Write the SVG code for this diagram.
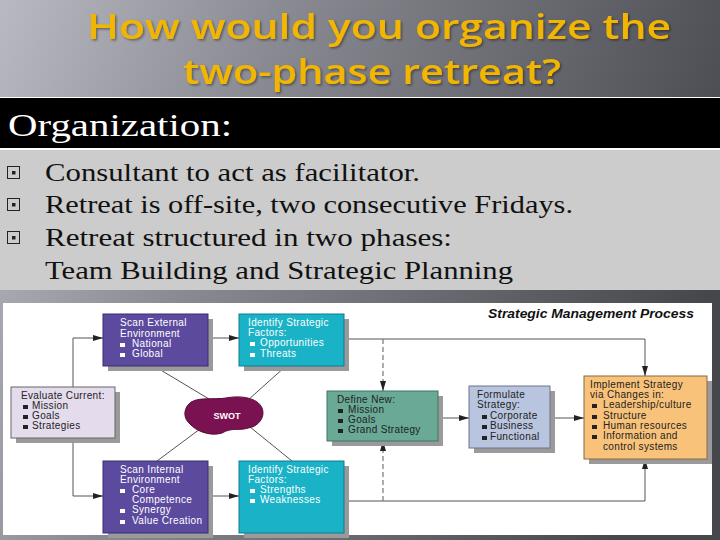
<svg xmlns="http://www.w3.org/2000/svg" width="720" height="540" viewBox="0 0 720 540">
<defs>
<linearGradient id="bg" x1="0" y1="0" x2="720" y2="260" gradientUnits="userSpaceOnUse">
<stop offset="0" stop-color="#b9b9c1"/>
<stop offset="0.35" stop-color="#8a8a92"/>
<stop offset="1" stop-color="#46464d"/>
</linearGradient>
<filter id="ts" x="-5%" y="-20%" width="110%" height="140%">
<feDropShadow dx="1.5" dy="1.5" stdDeviation="0.8" flood-color="#000" flood-opacity="0.4"/>
</filter>
<marker id="ah" viewBox="0 0 10 6" refX="10" refY="3" markerWidth="10" markerHeight="6" markerUnits="userSpaceOnUse" orient="auto">
<path d="M0,0 L10,3 L0,6 Z" fill="#222"/>
</marker>
<g id="cb"><rect x="0.5" y="0.5" width="12" height="12" fill="none" stroke="#222" stroke-width="1"/><rect x="5" y="5" width="3.5" height="3.5" fill="#222"/></g>
</defs>
<style>
.title{font-family:"Open Sans","DejaVu Sans",sans-serif;font-weight:600;font-size:35px;fill:#f2b600;}
.ser{font-family:"Liberation Serif",serif;fill:#111;}
.n{font-family:"Liberation Sans",Arial,sans-serif;font-size:10px;letter-spacing:0.35px;}
.w{fill:#fff;}
.d{fill:#222;}
.shadow{fill:#9a9a9a;}
.con{fill:none;stroke:#555;stroke-width:1;}
.dash{fill:none;stroke:#777;stroke-width:1.2;stroke-dasharray:5,3;}
</style>
<rect x="0" y="0" width="720" height="540" fill="url(#bg)"/>
<g id="title" filter="url(#ts)">
<text class="title" x="379" y="39" text-anchor="middle" textLength="584" lengthAdjust="spacingAndGlyphs">How would you organize the</text>
<text class="title" x="372" y="84" text-anchor="middle" textLength="378" lengthAdjust="spacingAndGlyphs">two-phase retreat?</text>
</g>
<g id="header">
<rect x="0" y="97" width="720" height="53" fill="#fff"/>
<rect x="0" y="98" width="720" height="50" fill="#000"/>
<text class="ser" x="8" y="136" font-size="32" style="fill:#fff" textLength="224" lengthAdjust="spacingAndGlyphs">Organization:</text>
</g>
<g id="bullets">
<rect x="0" y="150" width="720" height="140" fill="#cccccc"/>
<use href="#cb" x="7" y="166"/>
<use href="#cb" x="7" y="198"/>
<use href="#cb" x="7" y="231"/>
<text class="ser" x="45" y="181" font-size="26" textLength="375" lengthAdjust="spacingAndGlyphs">Consultant to act as facilitator.</text>
<text class="ser" x="45" y="213" font-size="26" textLength="528" lengthAdjust="spacingAndGlyphs">Retreat is off-site, two consecutive Fridays.</text>
<text class="ser" x="45" y="246" font-size="26" textLength="407" lengthAdjust="spacingAndGlyphs">Retreat structured in two phases:</text>
<text class="ser" x="45" y="279" font-size="26" textLength="468" lengthAdjust="spacingAndGlyphs">Team Building and Strategic Planning</text>
</g>
<rect x="3" y="303" width="709" height="232" fill="#fff"/>
<text x="488" y="318" font-family="Liberation Sans, Arial, sans-serif" font-size="12.5" font-weight="bold" font-style="italic" fill="#111" textLength="206" lengthAdjust="spacingAndGlyphs">Strategic Management Process</text>
<g id="connectors">
<polyline class="con" points="73,387 73,338 103,338" marker-end="url(#ah)"/>
<polyline class="con" points="73,438 73,496 103,496" marker-end="url(#ah)"/>
<line class="con" x1="208" y1="338" x2="239" y2="338" marker-end="url(#ah)"/>
<line class="con" x1="208" y1="496" x2="239" y2="496" marker-end="url(#ah)"/>
<polyline class="con" points="344,339 645,339 645,376" marker-end="url(#ah)"/>
<polyline class="con" points="344,501 645,501 645,459" marker-end="url(#ah)"/>
<line class="dash" x1="383" y1="339" x2="383" y2="391" marker-end="url(#ah)"/>
<line class="dash" x1="383" y1="501" x2="383" y2="441" marker-end="url(#ah)"/>
<line class="con" x1="438" y1="418" x2="469" y2="418" marker-end="url(#ah)"/>
<line class="con" x1="550" y1="418" x2="584" y2="418" marker-end="url(#ah)"/>
<line class="con" x1="154" y1="366" x2="214" y2="402"/>
<line class="con" x1="286" y1="366" x2="248" y2="400"/>
<line class="con" x1="200" y1="429" x2="157" y2="461"/>
<line class="con" x1="250" y1="427" x2="292" y2="461"/>
</g>
<g id="scan-external">
<rect class="shadow" x="108" y="319" width="105" height="52"/>
<rect x="103" y="314" width="105" height="52" fill="#5b4a9e" stroke="#3a2d6e"/>
<text class="n w" x="120" y="326">Scan External</text>
<text class="n w" x="120" y="337">Environment</text>
<rect x="120" y="343" width="5" height="4" fill="#fff"/><text class="n w" x="132" y="347">National</text>
<rect x="120" y="353" width="5" height="4" fill="#fff"/><text class="n w" x="132" y="357">Global</text>
</g>
<g id="identify-top">
<rect class="shadow" x="244" y="319" width="105" height="52"/>
<rect x="239" y="314" width="105" height="52" fill="#19b2c6" stroke="#0d7e8e"/>
<text class="n w" x="248" y="326">Identify Strategic</text>
<text class="n w" x="248" y="336">Factors:</text>
<rect x="250" y="342" width="5" height="4" fill="#fff"/><text class="n w" x="260" y="346">Opportunities</text>
<rect x="250" y="353" width="5" height="4" fill="#fff"/><text class="n w" x="260" y="357">Threats</text>
</g>
<g id="evaluate">
<rect class="shadow" x="16" y="392" width="104" height="51"/>
<rect x="11" y="387" width="104" height="51" fill="#e4dcec" stroke="#666"/>
<text class="n d" x="21" y="399">Evaluate Current:</text>
<rect x="23" y="405" width="5" height="4" fill="#222"/><text class="n d" x="32" y="409">Mission</text>
<rect x="23" y="415" width="5" height="4" fill="#222"/><text class="n d" x="32" y="419">Goals</text>
<rect x="23" y="425" width="5" height="4" fill="#222"/><text class="n d" x="32" y="429">Strategies</text>
</g>
<g id="swot">
<path d="M188,405 C194,396 214,400 226,398 C241,395 258,398 262,408 C266,418 257,427 248,428 C240,431 232,427 222,433 C209,437 195,430 190,424 C183,418 184,410 188,405 Z" fill="#7a1150" stroke="#5a0a3a"/>
<text x="227" y="419" text-anchor="middle" font-family="Liberation Sans, Arial, sans-serif" font-size="9" font-weight="bold" fill="#fff">SWOT</text>
</g>
<g id="scan-internal">
<rect class="shadow" x="108" y="466" width="105" height="72"/>
<rect x="103" y="461" width="105" height="72" fill="#5b4a9e" stroke="#3a2d6e"/>
<text class="n w" x="120" y="473">Scan Internal</text>
<text class="n w" x="120" y="483">Environment</text>
<rect x="120" y="489" width="5" height="4" fill="#fff"/><text class="n w" x="132" y="493">Core</text>
<text class="n w" x="132" y="503">Competence</text>
<rect x="120" y="509" width="5" height="4" fill="#fff"/><text class="n w" x="132" y="513">Synergy</text>
<rect x="120" y="520" width="5" height="4" fill="#fff"/><text class="n w" x="132" y="524">Value Creation</text>
</g>
<g id="identify-bottom">
<rect class="shadow" x="244" y="466" width="105" height="72"/>
<rect x="239" y="461" width="105" height="72" fill="#19b2c6" stroke="#0d7e8e"/>
<text class="n w" x="248" y="473">Identify Strategic</text>
<text class="n w" x="248" y="483">Factors:</text>
<rect x="250" y="489" width="5" height="4" fill="#fff"/><text class="n w" x="260" y="493">Strengths</text>
<rect x="250" y="499" width="5" height="4" fill="#fff"/><text class="n w" x="260" y="503">Weaknesses</text>
</g>
<g id="define-new">
<rect class="shadow" x="332" y="396" width="111" height="50"/>
<rect x="327" y="391" width="111" height="50" fill="#69a996" stroke="#3f7466"/>
<text class="n d" x="337" y="403">Define New:</text>
<rect x="338" y="409" width="5" height="4" fill="#222"/><text class="n d" x="348" y="413">Mission</text>
<rect x="338" y="419" width="5" height="4" fill="#222"/><text class="n d" x="348" y="423">Goals</text>
<rect x="338" y="429" width="5" height="4" fill="#222"/><text class="n d" x="348" y="433">Grand Strategy</text>
</g>
<g id="formulate">
<rect class="shadow" x="474" y="391" width="81" height="62"/>
<rect x="469" y="386" width="81" height="62" fill="#b9c5df" stroke="#6a7390"/>
<text class="n d" x="477" y="398">Formulate</text>
<text class="n d" x="477" y="408">Strategy:</text>
<rect x="482" y="415" width="5" height="4" fill="#222"/><text class="n d" x="490" y="419">Corporate</text>
<rect x="482" y="425" width="5" height="4" fill="#222"/><text class="n d" x="490" y="429">Business</text>
<rect x="482" y="436" width="5" height="4" fill="#222"/><text class="n d" x="490" y="440">Functional</text>
</g>
<g id="implement">
<rect class="shadow" x="589" y="381" width="123" height="83"/>
<rect x="584" y="376" width="123" height="83" fill="#f9c27a" stroke="#8a6a40"/>
<text class="n d" x="590" y="388">Implement Strategy</text>
<text class="n d" x="590" y="398">via Changes in:</text>
<rect x="592" y="404" width="5" height="4" fill="#222"/><text class="n d" x="603" y="408">Leadership/culture</text>
<rect x="592" y="415" width="5" height="4" fill="#222"/><text class="n d" x="603" y="419">Structure</text>
<rect x="592" y="425" width="5" height="4" fill="#222"/><text class="n d" x="603" y="429">Human resources</text>
<rect x="592" y="435" width="5" height="4" fill="#222"/><text class="n d" x="603" y="439">Information and</text>
<text class="n d" x="603" y="450">control systems</text>
</g>
</svg>
